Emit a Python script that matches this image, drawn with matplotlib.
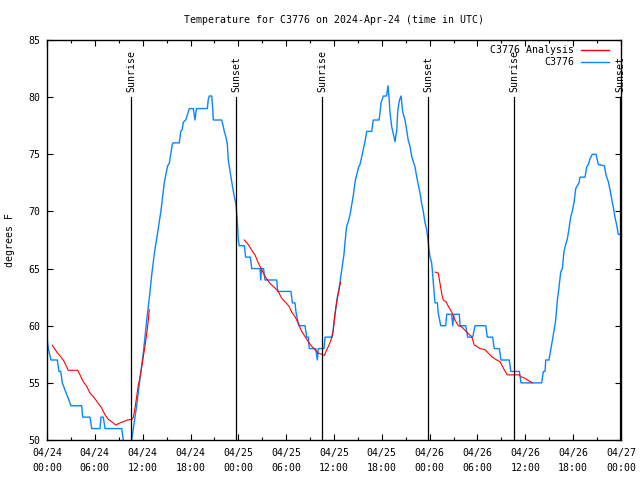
import matplotlib
matplotlib.use("Agg")
import matplotlib.pyplot as plt
from matplotlib.lines import Line2D
from matplotlib.ticker import MultipleLocator

# ---- data (hours since 2024-04-24 00:00 UTC, degrees F) ----
obs_hours = [0.0, 0.16, 0.5, 1.29, 1.5, 1.72, 1.92, 2.47, 3.01, 4.35, 4.48, 5.39, 5.61, 6.65,
             6.77, 7.06, 7.28, 9.37, 9.57, 9.72, 10.47, 10.62, 10.83, 11.25, 11.67, 12.08,
             12.51, 12.83, 13.13, 13.46, 13.89, 14.3, 14.71, 14.93, 15.14, 15.34, 15.52,
             15.72, 15.84, 16.6, 16.77, 16.97, 17.1, 17.4, 17.72, 17.85, 18.35, 18.56, 18.75,
             20.11, 20.23, 20.36, 20.66, 20.79, 20.86, 21.91, 22.12, 22.24, 22.45, 22.62,
             22.74, 22.96, 23.17, 23.46, 23.71, 23.87, 24.0, 24.12, 24.75, 24.92, 25.5, 25.68,
             26.72, 26.81, 26.91, 27.16, 27.35, 28.81, 28.94, 30.61, 30.77, 31.11, 31.23,
             31.4, 31.61, 32.36, 32.58, 32.78, 32.9, 33.71, 33.91, 34.03, 34.75, 34.87, 35.79,
             35.91, 36.04, 36.25, 36.42, 36.67, 37.09, 37.26, 37.38, 37.59, 37.79, 38.01,
             38.22, 38.42, 38.67, 38.85, 39.1, 39.26, 39.48, 39.68, 39.89, 40.1, 40.73, 40.93,
             41.65, 41.77, 41.9, 42.19, 42.59, 42.77, 42.9, 43.02, 43.24, 43.44, 43.65, 43.87,
             43.99, 44.19, 44.41, 44.62, 44.91, 45.12, 45.32, 45.53, 45.75, 46.16, 46.38,
             46.58, 46.79, 47.0, 47.2, 47.42, 47.63, 47.83, 48.04, 48.25, 48.38, 48.54, 48.67,
             48.96, 49.08, 49.39, 50.01, 50.14, 50.76, 50.89, 51.05, 51.72, 51.81, 52.52,
             52.65, 52.77, 53.4, 53.69, 55.03, 55.23, 55.9, 56.1, 56.73, 56.95, 57.99, 58.17,
             59.25, 59.46, 62.05, 62.26, 62.47, 62.56, 62.97, 63.18, 63.39, 63.6, 63.81, 64.01,
             64.23, 64.44, 64.64, 64.85, 65.06, 65.27, 65.48, 65.69, 65.89, 66.11, 66.32,
             66.73, 66.86, 67.49, 67.7, 67.9, 68.11, 68.4, 68.87, 69.16, 69.91, 70.12, 70.41,
             70.62, 70.83, 71.03, 71.24, 71.46, 71.66, 71.87]
obs_temps = [59, 58, 57, 57, 56, 56, 55, 54, 53, 53, 52, 52, 51, 51,
             52, 52, 51, 51, 50, 49, 49, 50, 51, 53, 55.4, 57.6,
             60.5, 62.4, 64.4, 66.3, 68.2, 70.1, 72.5, 73.3, 74, 74.2, 75,
             75.9, 76, 76, 77, 77.2, 77.8, 78, 78.7, 79, 79, 78, 79,
             79, 79.8, 80.1, 80.1, 79, 78, 78, 77.4, 77, 76.5, 75.9,
             74.5, 73.5, 72.6, 71.4, 70.6, 69.2, 67.5, 67, 67, 66, 66, 65,
             65, 64, 65, 65, 64, 64, 63, 63, 62, 62, 61.2,
             60.6, 60, 60, 59, 59, 58, 58, 57, 58, 58, 59, 59,
             59.8, 60.5, 61.7, 62.5, 63.4, 65.5, 66.3, 67.3, 68.7, 69.1, 69.7,
             70.6, 71.4, 72.7, 73.2, 73.9, 74.1, 74.8, 75.4, 76.1, 77, 77, 78,
             78, 78.6, 79.5, 80.1, 80.1, 81, 80, 78.7, 77.4, 76.8, 76.1, 77.1,
             78.7, 79.7, 80.1, 78.7, 78, 77.1, 76.2, 75.7, 74.8, 73.9, 73,
             72.3, 71.6, 70.7, 70, 69, 68.4, 67.2, 66, 65.5, 64.4, 63.1, 62,
             62, 61.1, 60, 60, 61, 61, 60, 61, 61, 60, 60,
             59.5, 59, 59, 60, 60, 59, 59, 58, 58, 57, 57, 56,
             56, 55, 55, 56, 56, 57, 57, 57.9, 58.7, 59.6, 60.5, 62.2,
             63.4, 64.7, 65, 66.5, 67.1, 67.6, 68.5, 69.5, 70, 70.8, 72,
             72.5, 73, 73, 73.9, 74.1, 74.6, 75, 75, 74.1, 74, 73.2, 72.6,
             71.9, 71.1, 70.4, 69.5, 68.8, 68, 68]

ana1_hours = [0.66, 1.22, 1.72, 2.13, 2.67, 3.85, 4.14, 4.55, 4.98, 5.39, 5.81, 6.44, 6.86,
              7.28, 7.69, 8.12, 8.62, 9.16, 9.57, 10.07, 10.62, 10.83, 11.04, 11.25, 11.45,
              11.67, 11.88, 12.08, 12.29, 12.51, 12.71, 12.83]
ana1_temps = [58.3, 57.7, 57.3, 56.9, 56.1, 56.1, 55.7, 55.1, 54.7, 54.1, 53.8, 53.2, 52.8,
              52.2, 51.8, 51.6, 51.3, 51.5, 51.6, 51.75, 51.8, 52.0, 52.8, 53.8, 54.8,
              55.5, 56.4, 57.3, 58.2, 59.3, 60.5, 61.4]
ana2_hours = [24.75, 25.25, 25.68, 26.09, 26.5, 26.93, 27.35, 27.97, 28.6, 29.01, 29.44, 29.85,
              30.36, 30.69, 31.11, 31.52, 31.95, 32.36, 32.78, 33.2, 33.62, 34.03, 34.46,
              34.78, 35.09, 35.37, 35.62, 35.91, 36.13, 36.34, 36.54, 36.75, 36.84]
ana2_temps = [67.5, 67.1, 66.6, 66.2, 65.5, 64.9, 64.3, 63.7, 63.3, 63.0, 62.4, 62.1,
              61.7, 61.2, 60.8, 60.2, 59.5, 59.05, 58.6, 58.2, 57.9, 57.6, 57.5,
              57.4, 57.9, 58.3, 58.75, 59.6, 61.1, 62.1, 62.8, 63.6, 63.8]
ana3_hours = [48.67, 49.08, 49.3, 49.51, 49.71, 50.05, 50.34, 50.76, 51.18, 51.59, 52.02, 52.43,
              52.85, 53.27, 53.6, 53.9, 54.31, 54.94, 55.36, 55.78, 56.41, 56.82, 57.24,
              57.74, 59.21, 59.55, 59.96, 60.38, 60.88]
ana3_temps = [64.7, 64.6, 63.7, 62.8, 62.25, 62.1, 61.7, 61.2, 60.5, 60.0, 59.9, 59.6,
              59.3, 59.05, 58.3, 58.2, 58.0, 57.9, 57.6, 57.3, 57.0, 56.85, 56.3,
              55.7, 55.7, 55.5, 55.4, 55.2, 55.0]

sun_hours = [10.57, 23.75, 34.53, 47.83, 58.62, 71.93]
sun_labels = ["Sunrise", "Sunset", "Sunrise", "Sunset", "Sunrise", "Sunset"]

tick_hours = list(range(0, 73, 6))
tick_labels = ["04/24\n00:00", "04/24\n06:00", "04/24\n12:00", "04/24\n18:00",
               "04/25\n00:00", "04/25\n06:00", "04/25\n12:00", "04/25\n18:00",
               "04/26\n00:00", "04/26\n06:00", "04/26\n12:00", "04/26\n18:00",
               "04/27\n00:00"]

title = "Temperature for C3776 on 2024-Apr-24 (time in UTC)"
series_names = ["C3776 Analysis", "C3776"]

# ---- style ----
FONT = "DejaVu Sans Mono"
FS = 7.1
RED = "#ff0000"
BLUE = "#0a84ff"

plt.rcParams["font.family"] = [FONT]
plt.rcParams["font.size"] = FS

fig = plt.figure(figsize=(6.4, 4.8), dpi=100)
ax = fig.add_axes([47 / 640, 40 / 480, 574 / 640, 400 / 480])

ax.set_xlim(0, 72)
ax.set_ylim(50, 85)

for hrs, tmp in [(ana1_hours, ana1_temps), (ana2_hours, ana2_temps), (ana3_hours, ana3_temps)]:
    ax.plot(hrs, tmp, color=RED, lw=0.8, zorder=3)
ax.plot(obs_hours, obs_temps, color=BLUE, lw=1.0, zorder=2)

for h, lab in zip(sun_hours, sun_labels):
    ax.plot([h, h], [50, 80], color="black", lw=0.9, zorder=4)
    ax.text(h, 80.45, lab, rotation=90, ha="center", va="bottom", fontsize=FS,
            clip_on=False, zorder=5)

ax.set_xticks(tick_hours)
ax.set_xticklabels(tick_labels, linespacing=1.55)
ax.xaxis.set_minor_locator(MultipleLocator(3))
ax.yaxis.set_major_locator(MultipleLocator(5))
ax.tick_params(axis="both", which="major", direction="in", length=4.3, width=0.8,
               top=True, right=True, labelsize=FS)
ax.tick_params(axis="x", which="minor", direction="in", length=2.2, width=0.8,
               top=True, bottom=True)
ax.tick_params(axis="x", which="major", pad=6)
ax.tick_params(axis="y", which="major", pad=5)
for s in ax.spines.values():
    s.set_linewidth(1.0)

ax.set_title(title, fontsize=FS, pad=12)
fig.text(10 / 640, 0.5, "degrees F", rotation=90, ha="center", va="center", fontsize=FS)

# legend (top-right, right-aligned text)
for i, (name, col) in enumerate(zip(series_names, [RED, BLUE])):
    yy = 0.975 - i * 0.031
    ax.text(0.918, yy, name, transform=ax.transAxes, ha="right", va="center", fontsize=FS)
    ax.add_line(Line2D([0.930, 0.979], [yy, yy], transform=ax.transAxes, color=col, lw=1.0))

fig.savefig("out.png", dpi=100)
